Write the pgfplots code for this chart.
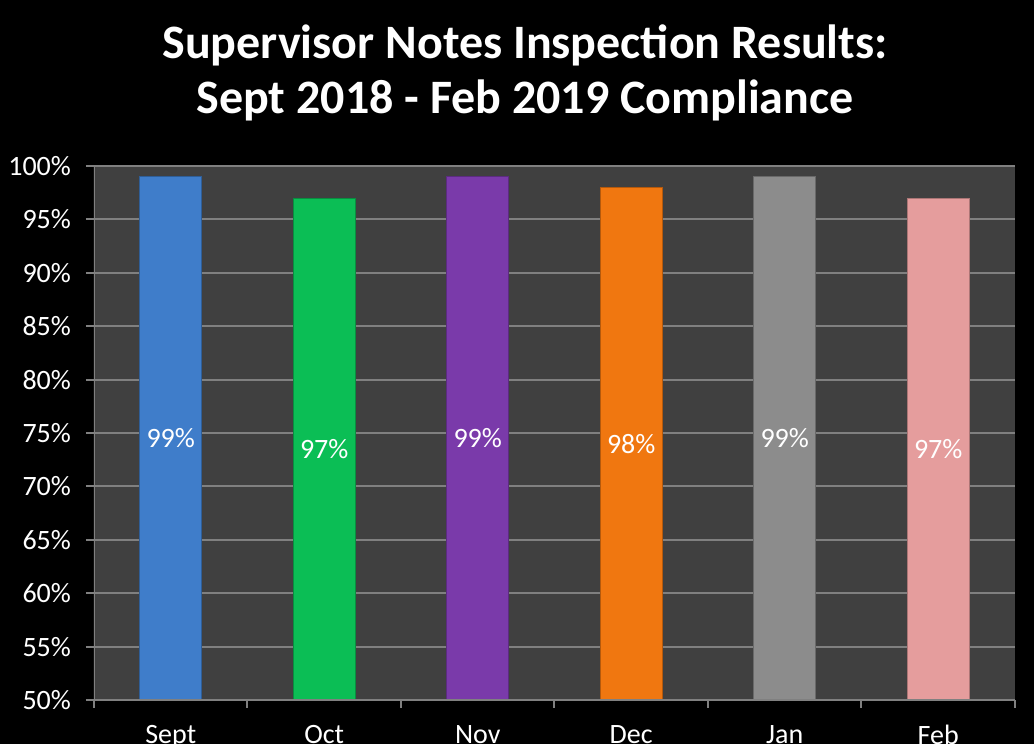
\documentclass[border=0pt]{standalone}
\usepackage{pgfplots}
\pgfplotsset{compat=1.18}
\usepackage{fontspec}
\setmainfont{Carlito}
\definecolor{plotbg}{HTML}{404040}
\definecolor{gridc}{HTML}{808080}
\definecolor{cSep}{HTML}{3F7DCA}
\definecolor{cOct}{HTML}{0BBE55}
\definecolor{cNov}{HTML}{7A3AAA}
\definecolor{cDec}{HTML}{F07710}
\definecolor{cJan}{HTML}{8C8C8C}
\definecolor{cFeb}{HTML}{E59D9D}
\begin{document}
\begin{tikzpicture}[x=1pt,y=1pt]
\fill[black] (-47,-22) rectangle (470,350);
\begin{axis}[
  at={(0,0)}, anchor=south west,
  scale only axis, width=460.5pt, height=267pt,
  xmin=-0.5, xmax=5.5, ymin=50, ymax=100,
  axis background/.style={fill=plotbg},
  axis line style={draw=none},
  xtick pos=bottom, ytick pos=left,
  ytick={50,55,...,100},
  yticklabels={50\%,55\%,60\%,65\%,70\%,75\%,80\%,85\%,90\%,95\%,100\%},
  ymajorgrids, grid style={gridc, line width=1pt},
  tick align=outside, major tick length=4pt,
  tick style={gridc, line width=1pt},
  ticklabel style={white, font=\fontsize{14}{16}\selectfont},
  yticklabel style={xshift=-4pt},
  xtick={0,...,5},
  xticklabels={Sept,Oct,Nov,Dec,Jan,Feb},
  xticklabel style={yshift=-5pt},
  major x tick style={draw=none},
  extra x ticks={-0.5,0.5,1.5,2.5,3.5,4.5,5.5},
  extra x tick labels={},
  extra x tick style={major x tick style={draw=gridc, line width=1pt}, grid=none},
  nodes near coords={\pgfmathprintnumber[assume math mode=true]{\pgfplotspointmeta}\%},
  visualization depends on={y \as \rawy},
  every node near coord/.append style={white, font=\fontsize{14}{16}\selectfont, anchor=center,
    shift={(axis direction cs:0,{-(\rawy-50)/2})}},
  clip=true,
]
\addplot[ybar, bar width=31pt, draw=cSep!75!black, fill=cSep] coordinates {(0,99)};
\addplot[ybar, bar width=31pt, draw=cOct!75!black, fill=cOct] coordinates {(1,97)};
\addplot[ybar, bar width=31pt, draw=cNov!75!black, fill=cNov] coordinates {(2,99)};
\addplot[ybar, bar width=31pt, draw=cDec!75!black, fill=cDec] coordinates {(3,98)};
\addplot[ybar, bar width=31pt, draw=cJan!75!black, fill=cJan] coordinates {(4,99)};
\addplot[ybar, bar width=31pt, draw=cFeb!75!black, fill=cFeb] coordinates {(5,97)};
\draw[gridc, line width=1pt] (rel axis cs:0,0) -- (rel axis cs:0,1);
\draw[gridc, line width=1pt] (rel axis cs:0,0) -- (rel axis cs:1,0);
\end{axis}
\node[white, font=\bfseries\fontsize{24}{27.5}\selectfont, align=center] at (215.5,313.75)
  {Supervisor Notes Inspection Results:\\Sept 2018 - Feb 2019 Compliance};
\pgfresetboundingbox
\path[use as bounding box] (-47,-22) rectangle (470,350);
\end{tikzpicture}
\end{document}
